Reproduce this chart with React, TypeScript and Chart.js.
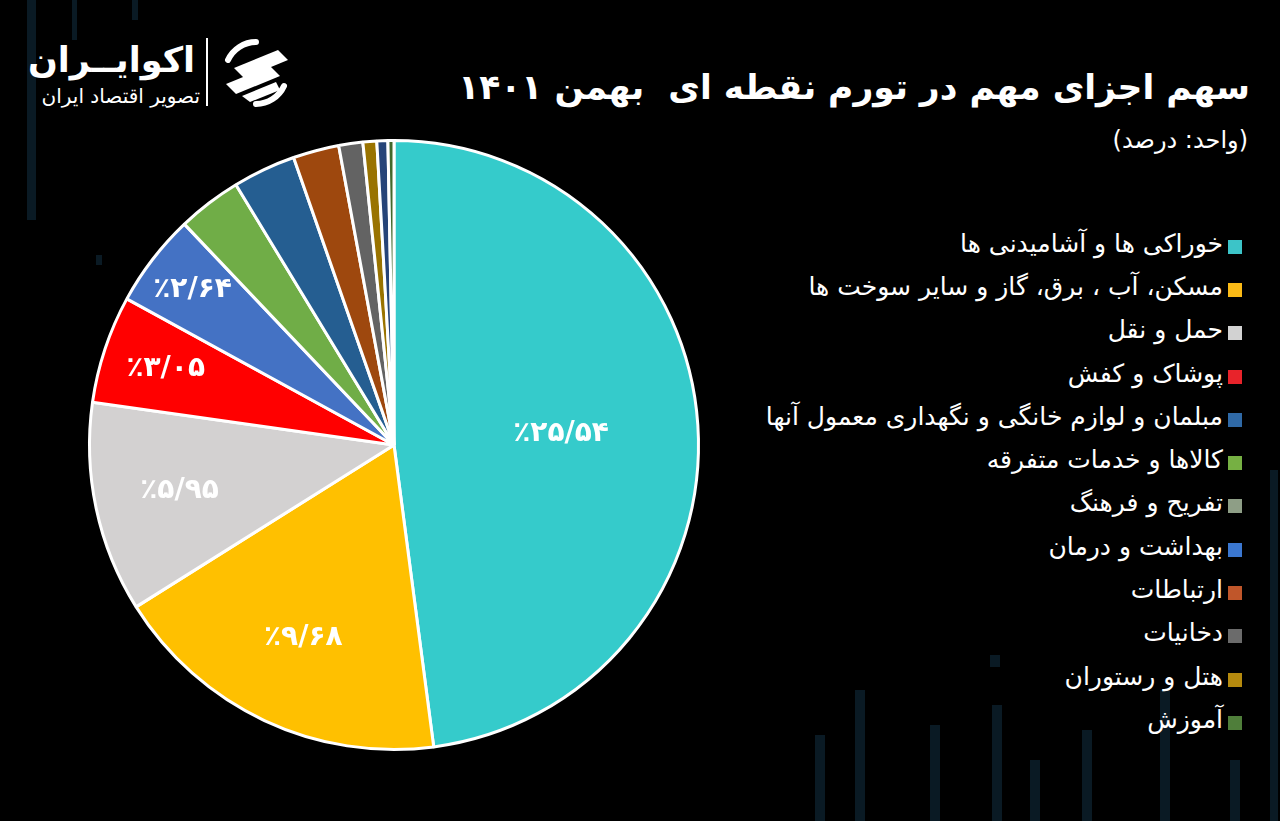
import React, { useEffect, useRef } from "react";
import { Chart, registerables } from "chart.js";

Chart.register(...registerables);

// ---- data ----
const sliceLabels = [
  "خوراکی ها و آشامیدنی ها",
  "مسکن، آب ، برق، گاز و سایر سوخت ها",
  "حمل و نقل",
  "پوشاک و کفش",
  "بهداشت و درمان",
  "کالاها و خدمات متفرقه",
  "مبلمان و لوازم خانگی و نگهداری معمول آنها",
  "ارتباطات",
  "دخانیات",
  "هتل و رستوران",
  "تفریح و فرهنگ",
  "آموزش",
];
const sliceValues = [25.54, 9.68, 5.95, 3.05, 2.64, 1.81, 1.78, 1.3, 0.68, 0.39, 0.31, 0.17];
const sliceColors = [
  "#35CBCB", "#FFC000", "#D3D1D1", "#FF0000", "#4472C4", "#70AD47",
  "#255E91", "#9E480E", "#636363", "#997300", "#264478", "#43682B",
];
const labeledCount = 5;

const legendLabels = [
  "خوراکی ها و آشامیدنی ها",
  "مسکن، آب ، برق، گاز و سایر سوخت ها",
  "حمل و نقل",
  "پوشاک و کفش",
  "مبلمان و لوازم خانگی و نگهداری معمول آنها",
  "کالاها و خدمات متفرقه",
  "تفریح و فرهنگ",
  "بهداشت و درمان",
  "ارتباطات",
  "دخانیات",
  "هتل و رستوران",
  "آموزش",
];
const legendColors = [
  "#3CC4C8", "#FBBA16", "#D2D2D2", "#E8232A", "#2F69A6", "#76B043",
  "#8E9E86", "#3B77D0", "#C0562A", "#6B6B6B", "#B58A0E", "#4F7E3A",
];

const titleText = "سهم اجزای مهم در تورم نقطه ای  بهمن ۱۴۰۱";
const unitText = "(واحد: درصد)";

// label radial placement (fraction of radius) for labeled slices
const LABEL_RADIUS = [0.55, 0.7, 0.72, 0.79, 0.835];

const faDigits = "۰۱۲۳۴۵۶۷۸۹";
const toFa = (s: string) => s.replace(/[0-9]/g, (d) => faDigits[+d]);
const fmt = (v: number) => "٪" + toFa(v.toFixed(2).replace(".", "/"));

const FONT = "'DejaVu Sans', 'Noto Sans', sans-serif";

const labelPlugin = {
  id: "sliceLabels",
  afterDatasetsDraw(chart: any) {
    const ctx = chart.ctx;
    const meta = chart.getDatasetMeta(0);
    ctx.save();
    ctx.fillStyle = "#ffffff";
    ctx.font = `bold 28px ${FONT}`;
    ctx.textAlign = "center";
    ctx.textBaseline = "middle";
    for (let i = 0; i < labeledCount; i++) {
      const arc = meta.data[i];
      const p = arc.getProps(["x", "y", "startAngle", "endAngle", "outerRadius"], true);
      const mid = (p.startAngle + p.endAngle) / 2;
      const r = p.outerRadius * LABEL_RADIUS[i];
      ctx.fillText(fmt(sliceValues[i]), p.x + Math.cos(mid) * r, p.y + Math.sin(mid) * r);
    }
    ctx.restore();
  },
};

const bgBars = [
  { x: 27, y: 0, w: 9, h: 220 },
  { x: 72, y: 0, w: 5, h: 40 },
  { x: 132, y: 0, w: 6, h: 20 },
  { x: 96, y: 255, w: 6, h: 10 },
  { x: 990, y: 655, w: 10, h: 12 },
  { x: 992, y: 705, w: 10, h: 116 },
  { x: 815, y: 735, w: 10, h: 86 },
  { x: 855, y: 690, w: 10, h: 131 },
  { x: 930, y: 725, w: 10, h: 96 },
  { x: 1030, y: 760, w: 10, h: 61 },
  { x: 1082, y: 730, w: 10, h: 91 },
  { x: 1160, y: 690, w: 10, h: 131 },
  { x: 1270, y: 470, w: 8, h: 351 },
  { x: 1230, y: 760, w: 10, h: 61 },
];

function Logo() {
  return (
    <div style={{ position: "absolute", left: 30, top: 30, width: 280, height: 85 }}>
      <div
        dir="rtl"
        style={{
          position: "absolute",
          right: 115,
          top: 8,
          color: "#fff",
          font: `bold 35px ${FONT}`,
          lineHeight: "44px",
          whiteSpace: "nowrap",
        }}
      >
        اکوایــران
      </div>
      <div
        dir="rtl"
        style={{
          position: "absolute",
          right: 110,
          top: 54,
          color: "#fff",
          font: `20px ${FONT}`,
          lineHeight: "24px",
          whiteSpace: "nowrap",
        }}
      >
        تصویر اقتصاد ایران
      </div>
      <div style={{ position: "absolute", left: 176, top: 8, width: 2, height: 68, background: "#fff" }} />
      <svg style={{ position: "absolute", left: 190, top: 8 }} width="72" height="70" viewBox="0 0 72 70">
        <path d="M36 4 A31 31 0 0 0 8 22" stroke="#fff" strokeWidth="6" fill="none" strokeLinecap="round" />
        <path d="M36 66 A31 31 0 0 0 64 48" stroke="#fff" strokeWidth="6" fill="none" strokeLinecap="round" />
        <path d="M14 30 L58 12 L68 22 L24 40 Z" fill="#fff" />
        <path d="M6 46 L50 28 L60 38 L16 56 Z" fill="#fff" />
        <path d="M22 58 L56 44 L60 52 L30 64 Z" fill="#fff" />
      </svg>
    </div>
  );
}

export default function App() {
  const ref = useRef<HTMLCanvasElement | null>(null);

  useEffect(() => {
    if (!ref.current) return;
    const chart = new Chart(ref.current, {
      type: "pie",
      data: {
        labels: sliceLabels,
        datasets: [
          {
            data: sliceValues,
            backgroundColor: sliceColors,
            borderColor: "#ffffff",
            borderWidth: 3,
          },
        ],
      },
      options: {
        responsive: false,
        animation: false,
        layout: { padding: 16 },
        plugins: {
          legend: { display: false },
          tooltip: { enabled: false },
        },
      },
      plugins: [labelPlugin],
    });
    return () => chart.destroy();
  }, []);

  return (
    <div
      style={{
        position: "fixed",
        left: 0,
        top: 0,
        width: 1280,
        height: 821,
        background: "#000",
        overflow: "hidden",
        fontFamily: FONT,
      }}
    >
      {bgBars.map((b, i) => (
        <div
          key={i}
          style={{
            position: "absolute",
            left: b.x,
            top: b.y,
            width: b.w,
            height: b.h,
            background: "#0a1a24",
          }}
        />
      ))}
      <Logo />
      <div
        dir="rtl"
        style={{
          position: "absolute",
          right: 30,
          top: 61,
          color: "#fff",
          font: `bold 34.5px ${FONT}`,
          lineHeight: "52px",
          whiteSpace: "pre",
        }}
      >
        {titleText}
      </div>
      <div
        dir="rtl"
        style={{
          position: "absolute",
          right: 32,
          top: 123,
          color: "#fff",
          font: `24px ${FONT}`,
          lineHeight: "34px",
          whiteSpace: "nowrap",
        }}
      >
        {unitText}
      </div>
      <canvas
        ref={ref}
        width={644}
        height={644}
        style={{ position: "absolute", left: 72, top: 123, width: 644, height: 644 }}
      />
      <div style={{ position: "absolute", right: 38, top: 222 }}>
        {legendLabels.map((l, i) => (
          <div
            key={i}
            dir="rtl"
            style={{
              display: "flex",
              alignItems: "center",
              justifyContent: "flex-start",
              height: 43.3,
              whiteSpace: "nowrap",
            }}
          >
            <span
              style={{
                display: "inline-block",
                width: 14,
                height: 14,
                background: legendColors[i],
                marginLeft: 5,
                marginTop: 6,
              }}
            />
            <span style={{ color: "#fff", font: `25px ${FONT}`, lineHeight: "32px" }}>{l}</span>
          </div>
        ))}
      </div>
    </div>
  );
}
